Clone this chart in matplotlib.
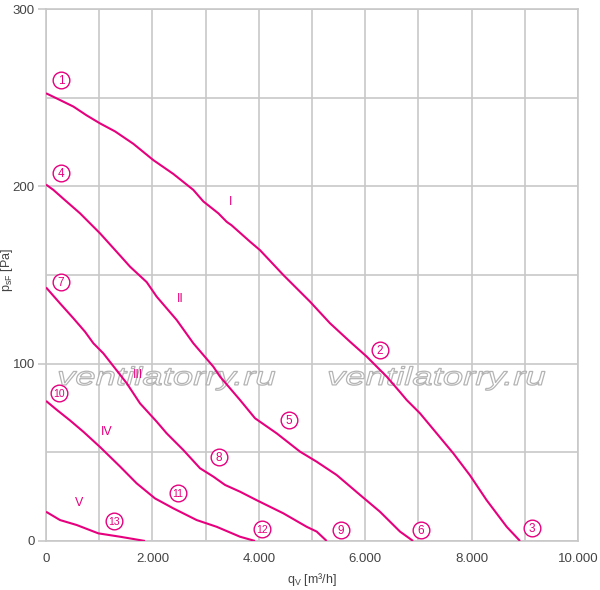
import matplotlib
matplotlib.use("Agg")
import matplotlib.pyplot as plt
from matplotlib.font_manager import FontProperties
from matplotlib.patches import PathPatch
from matplotlib.textpath import TextPath
from matplotlib.transforms import Affine2D
from matplotlib.ticker import FuncFormatter, MultipleLocator

# fan curves: airflow q_V [m3/h] and pressure p_sF [Pa]
q_1 = [0, 200, 514, 765, 1015, 1297, 1641, 2017, 2393, 2769, 2957, 3239, 3396, 3490,
       3835, 4023, 4461, 4962, 5338, 5714, 6028, 6404, 6654, 6780, 7030, 7657, 7970,
       8283, 8660, 8910]
p_1 = [252.5, 249.6, 245, 240, 235.5, 231, 224, 214.8, 207, 198, 191.5, 184.8, 180, 178,
       168.8, 164, 150, 135, 122.8, 112.4, 104, 92.7, 84, 79.5, 72, 49.4, 37,
       23, 8, 0]

q_2 = [0, 138, 326, 639, 1015, 1391, 1579, 1892, 2080, 2457, 2769, 3145, 3271, 3647,
       3929, 4336, 4774, 5088, 5464, 5902, 6278, 6654, 6900]
p_2 = [201, 198, 193, 184.8, 173.5, 161, 154.7, 146, 137.8, 124.6, 111.5, 98.3, 92.7, 79.5,
       69.2, 60.7, 50.4, 44.7, 37.2, 26, 16.5, 5.3, 0]

q_3 = [0, 263, 514, 733, 890, 1078, 1516, 1767, 2080, 2268, 2581, 2895, 3145, 3365,
       3647, 3960, 4461, 4900, 5088, 5276]
p_3 = [143, 134, 125.6, 118, 111.5, 105.8, 89, 77.6, 67.3, 60.7, 51.3, 41, 36.3, 31.6,
       27.8, 23, 15.6, 8, 5.3, 0]

q_4 = [0, 200, 451, 702, 1015, 1391, 1704, 2049, 2393, 2832, 3208, 3647, 3929]
p_4 = [79, 74, 68, 61.6, 53, 42, 32.5, 24, 18.4, 11.8, 8, 2.4, 0]

q_5 = [0, 263, 577, 983, 1391, 1861]
p_5 = [16.5, 11.8, 9, 4.3, 2.4, 0]

curves = [(q_1, p_1), (q_2, p_2), (q_3, p_3), (q_4, p_4), (q_5, p_5)]

# curve names and point numbers
roman = ["I", "II", "III", "IV", "V"]
roman_xy = [(3477, 191), (2519, 136.5), (1729, 93.6), (1147, 61.5), (620, 21.4)]
numbers = [str(i) for i in range(1, 14)]
number_xy = [(282, 260), (6278, 107.7), (9135, 7.3), (282, 207.5), (4568, 68.2),
             (7049, 6.2), (282, 146), (3252, 47.4), (5545, 6.2), (244, 83.5),
             (2481, 27), (4060, 6.8), (1278, 11.3)]

watermark = "ventilatorry.ru"
watermark_x = [207, 5282]   # left edge of the text
watermark_y = 88            # baseline

magenta = "#e6007e"
grey = "#c8c8c8"
plt.rcParams["font.family"] = ["Liberation Sans", "DejaVu Sans"]

fig = plt.figure(figsize=(6, 5.9), dpi=100)
ax = fig.add_axes([0.0767, 0.0831, 0.8866, 0.9016])
ax.set_xlim(0, 10000)
ax.set_ylim(0, 300)

for q, p in curves:
    ax.plot(q, p, color=magenta, lw=1.5, zorder=4, solid_capstyle="butt")

for name, (x, y) in zip(roman, roman_xy):
    ax.text(x, y, name, color=magenta, fontsize=9, ha="center", va="center", zorder=5)

for num, (x, y) in zip(numbers, number_xy):
    ax.plot(x, y, "o", ms=12, mfc="white", mec=magenta, mew=1.0, zorder=5)
    ax.text(x, y - 0.4, num, color=magenta, fontsize=8.5 if len(num) == 1 else 7.5,
            ha="center", va="center", zorder=6)

# outlined watermark, stretched to the width seen in the picture
tp = TextPath((0, 0), watermark, size=1,
              prop=FontProperties(family="Liberation Sans", style="italic"))
ext = tp.get_extents()
sx = 216 / ext.width
sy = 25.5
for x in watermark_x:
    x0, y0 = ax.transData.transform((x, watermark_y))
    ax.add_patch(PathPatch(tp, fc="white", ec="#b4b4b4", lw=0.9, zorder=3,
                           transform=Affine2D().scale(sx, sy).translate(x0, y0)))

ax.xaxis.set_major_locator(MultipleLocator(2000))
ax.xaxis.set_minor_locator(MultipleLocator(1000))
ax.yaxis.set_major_locator(MultipleLocator(100))
ax.yaxis.set_minor_locator(MultipleLocator(50))
ax.xaxis.set_major_formatter(FuncFormatter(lambda v, pos: f"{int(v):,}".replace(",", ".")))
ax.grid(which="both", color=grey, lw=1.2, zorder=0)
ax.set_axisbelow(True)
for s in ax.spines.values():
    s.set_color(grey)
    s.set_linewidth(1.2)

ax.tick_params(axis="y", which="major", length=6, color=grey, width=1.2,
               labelsize=9.5, labelcolor="#444444", pad=2)
ax.tick_params(axis="x", which="major", length=0, labelsize=9.5,
               labelcolor="#444444", pad=9)
ax.tick_params(which="minor", length=0)

ax.set_xlabel("q$_\\mathregular{V}$ [m³/h]", fontsize=9, color="#444444")
ax.set_ylabel("p$_\\mathregular{sF}$ [Pa]", fontsize=9, color="#444444")
ax.xaxis.set_label_coords(0.5, -0.056)
ax.yaxis.set_label_coords(-0.058, 0.51)

fig.savefig("out.png", dpi=100)
